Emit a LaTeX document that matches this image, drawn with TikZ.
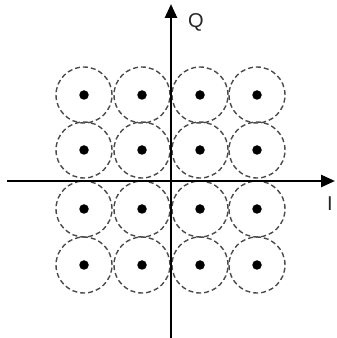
\documentclass[tikz,border=0pt]{standalone}
\usepackage{fontspec}
\setmainfont{Liberation Sans}
\usetikzlibrary{arrows.meta}
\definecolor{ringgray}{HTML}{4A4A4A}
\tikzset{
  axisline/.style={-{Triangle[length=14pt,width=12pt]},line width=2.6pt,draw=black},
  symdot/.style={circle,fill=black,inner sep=0pt,minimum size=9.5pt},
  ringnode/.style={circle,draw=ringgray,dashed,dash pattern=on 5pt off 3pt,
                   line width=1.4pt,inner sep=0pt,minimum size=56pt},
  axislabel/.style={font=\fontsize{20}{22}\selectfont,text=black!85,inner sep=0pt},
}
\begin{document}
\begin{tikzpicture}[x=1pt,y=1pt]
  \useasboundingbox (0,0) rectangle (337,338);
  % axis end points
  \coordinate (iwest) at (7,157);
  \coordinate (ieast) at (335,157);
  \coordinate (qsouth) at (171,0);
  \coordinate (qnorth) at (171,334);
  % 16 symbols, each with its decision ring
  \foreach \xx [count=\ci] in {84,142,200,257}{
    \foreach \yy [count=\ri] in {243,188,129,73}{
      \node[ringnode] (ring\ci\ri) at (\xx,\yy) {};
      \node[symdot] (sym\ci\ri) at (\xx,\yy) {};
    }
  }
  \draw[axisline] (iwest) -- (ieast);
  \draw[axisline] (qsouth) -- (qnorth);
  \node[axislabel] (qlab) at (196,316) {Q};
  \node[axislabel] (ilab) at (330,134) {I};
\end{tikzpicture}
\end{document}
